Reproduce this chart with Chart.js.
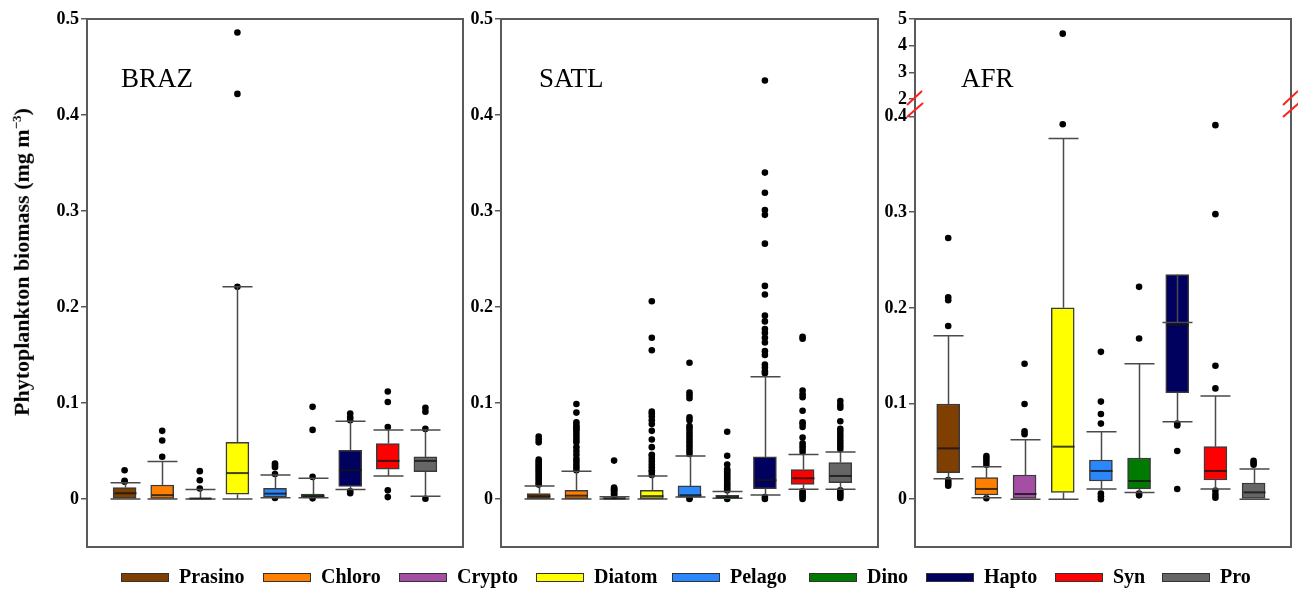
<!DOCTYPE html>
<html>
<head>
<meta charset="utf-8">
<script src="https://cdn.jsdelivr.net/npm/chart.js@4.4.1/dist/chart.umd.min.js"></script>
<style>
    html, body { margin: 0; padding: 0; background: #fff; }
    #wrap { position: relative; width: 1298px; height: 590px; overflow: hidden;
            font-family: "Liberation Serif", "Times New Roman", serif; color: #000; }
    #wrap canvas { position: absolute; top: 0; }
    #ytitle { position: absolute; left: 22px; top: 262px; white-space: nowrap;
              transform: translate(-50%, -50%) rotate(-90deg);
              font-weight: bold; font-size: 22px; }
    #ytitle sup { font-size: 13px; }
    .sw { position: absolute; top: 573px; width: 46px; height: 7px; border: 1px solid #333; }
    .lt { position: absolute; top: 565px; font-weight: bold; font-size: 20px; line-height: 22px; }
</style>
</head>
<body>
<div id="wrap">
    <canvas id="cBraz" width="468" height="590" style="left:0px"></canvas>
    <canvas id="cSatl" width="422" height="590" style="left:460px"></canvas>
    <canvas id="cAfr" width="422" height="590" style="left:876px"></canvas>
    <div id="ytitle">Phytoplankton biomass (mg m<sup>&minus;3</sup>)</div>
    <div id="legend"></div>
</div>
<script>
// ── Groups and colours ────────────────────────────────────
var categories = ['Prasino', 'Chloro', 'Crypto', 'Diatom', 'Pelago', 'Dino', 'Hapto', 'Syn', 'Pro'];
var colors     = ['#7f3f00', '#ff8000', '#a44ea4', '#ffff00', '#2a88fc', '#007a00', '#00005e', '#ff0000', '#666666'];

var yTicks      = [0, 0.1, 0.2, 0.3, 0.4, 0.5];
var afrLowTicks = [0, 0.1, 0.2, 0.3, 0.4];
var afrTopTicks = [2, 3, 4, 5];

// ── BRAZ ──────────────────────────────────────────────────
var brazLow  = [0,      0,      0,      0,     0.0014, 0.0014, 0.010,  0.024,  0.0028];
var brazQ1   = [0.0005, 0.0005, 0,      0.005, 0.002,  0.0014, 0.0132, 0.031,  0.0285];
var brazMed  = [0.006,  0.004,  0.0005, 0.027, 0.0056, 0.003,  0.030,  0.0397, 0.0397];
var brazQ3   = [0.012,  0.0146, 0.001,  0.059, 0.011,  0.005,  0.0508, 0.0578, 0.0438];
var brazHigh = [0.017,  0.039,  0.010,  0.221, 0.025,  0.0216, 0.081,  0.072,  0.072];
var brazOut  = [
    [0.018, 0.019, 0.030],
    [0.044, 0.061, 0.071],
    [0.011, 0.0195, 0.029],
    [0.221, 0.422, 0.486],
    [0.001, 0.026, 0.033, 0.035, 0.037],
    [0.0007, 0.023, 0.072, 0.096],
    [0.006, 0.008, 0.082, 0.085, 0.089],
    [0.002, 0.009, 0.075, 0.101, 0.112],
    [0.0003, 0.073, 0.091, 0.095]
];

// ── SATL ──────────────────────────────────────────────────
var satlLow  = [0,      0,      0,      0,      0.002,  0.0007, 0.0042, 0.0101, 0.0101];
var satlQ1   = [0.0003, 0.0003, 0,      0.0003, 0.002,  0.0007, 0.0108, 0.0153, 0.017];
var satlMed  = [0.0028, 0.0035, 0.0005, 0.003,  0.004,  0.002,  0.0195, 0.0216, 0.024];
var satlQ3   = [0.0056, 0.009,  0.0015, 0.009,  0.0136, 0.0038, 0.0438, 0.0306, 0.0379];
var satlHigh = [0.0136, 0.029,  0.0024, 0.024,  0.0449, 0.0077, 0.1274, 0.0463, 0.049];
var satlOut  = [
    [0.015, 0.017, 0.019, 0.021, 0.023, 0.025, 0.027, 0.029, 0.031, 0.033, 0.035, 0.037, 0.039, 0.041, 0.059, 0.062, 0.065],
    [0.030, 0.033, 0.036, 0.039, 0.042, 0.046, 0.050, 0.054, 0.059, 0.062, 0.065, 0.068, 0.071, 0.073, 0.075, 0.077, 0.080, 0.090, 0.099],
    [0.003, 0.005, 0.006, 0.008, 0.009, 0.010, 0.011, 0.012, 0.040],
    [0.025, 0.028, 0.030, 0.033, 0.036, 0.039, 0.042, 0.045, 0.046, 0.054, 0.062, 0.071, 0.078, 0.082, 0.086, 0.089, 0.091, 0.155, 0.168, 0.206],
    [0, 0.001, 0.047, 0.050, 0.053, 0.056, 0.059, 0.062, 0.065, 0.068, 0.071, 0.074, 0.076, 0.082, 0.085, 0.105, 0.108, 0.111, 0.142],
    [0, 0.009, 0.011, 0.013, 0.015, 0.017, 0.019, 0.021, 0.023, 0.025, 0.027, 0.029, 0.031, 0.036, 0.045, 0.070],
    [0, 0.002, 0.131, 0.133, 0.137, 0.140, 0.150, 0.154, 0.163, 0.168, 0.173, 0.177, 0.185, 0.191, 0.213, 0.222, 0.266, 0.296, 0.301, 0.319, 0.340, 0.436],
    [0, 0.002, 0.004, 0.006, 0.008, 0.049, 0.052, 0.055, 0.058, 0.064, 0.075, 0.078, 0.080, 0.092, 0.106, 0.109, 0.113, 0.167, 0.169],
    [0.001, 0.003, 0.005, 0.007, 0.009, 0.052, 0.055, 0.058, 0.061, 0.064, 0.067, 0.070, 0.073, 0.081, 0.095, 0.098, 0.102]
];

// ── AFR (broken axis: 0–0.4 below, 2–5 above) ─────────────
var afrLow  = [0.0214, 0.0016, 0,      0,      0.0107, 0.0071, 0.081,  0.0107, 0];
var afrQ1   = [0.0277, 0.0044, 0,      0.0071, 0.019,  0.0107, 0.1113, 0.020,  0];
var afrMed  = [0.0531, 0.0107, 0.0054, 0.0549, 0.0295, 0.019,  0.182,  0.0295, 0.0071];
var afrQ3   = [0.0995, 0.0225, 0.0253, 0.2001, 0.041,  0.043,  0.2349, 0.0549, 0.0169];
var afrHigh = [0.1708, 0.034,  0.0622, 0.377,  0.0705, 0.1416, 0.1848, 0.1078, 0.0316];
var afrOut  = [
    [0.014, 0.016, 0.018, 0.020, 0.181, 0.208, 0.211, 0.273],
    [0.001, 0.036, 0.039, 0.042, 0.045],
    [0.068, 0.071, 0.0995, 0.1416],
    [0.392],
    [0, 0.003, 0.006, 0.079, 0.089, 0.102, 0.154],
    [0.004, 0.006, 0.168, 0.222],
    [0.0107, 0.0504, 0.077, 0.079],
    [0.0016, 0.005, 0.009, 0.1158, 0.1395, 0.298, 0.391],
    [0.036, 0.038, 0.040]
];
var afrOutTop = [[], [], [], [4.45], [], [], [], [], []];

// ── Helpers ───────────────────────────────────────────────
var FRAME = '#5a5a5a';
var TICK_FONT = { family: '"Liberation Serif", "Times New Roman", serif', size: 18, weight: 'bold' };

function toPoints(lists) {
    var pts = [];
    lists.forEach(function (arr, i) {
        arr.forEach(function (v) { pts.push({ x: i + 1, y: v }); });
    });
    return pts;
}

function fmt(v) { return v === 0 ? '0' : String(+v.toFixed(2)); }

function yAxis(min, max, ticks, width, extra) {
    var ax = {
        type: 'linear', position: 'left', min: min, max: max,
        afterBuildTicks: function (a) { a.ticks = ticks.map(function (v) { return { value: v }; }); },
        afterFit: function (a) { a.width = width; },
        border: { display: false },
        grid: { drawOnChartArea: false, drawTicks: true, tickLength: 6, color: FRAME, lineWidth: 1.5 },
        ticks: { font: TICK_FONT, color: '#000', padding: 2, callback: fmt, autoSkip: false }
    };
    for (var k in extra) ax[k] = extra[k];
    return ax;
}

// whiskers, caps, medians, frame, panel name and axis break marks
function boxPlugin(name, s, broken) {
    return {
        id: 'box_' + name,
        afterDatasetsDraw: function (chart) {
            var ctx = chart.ctx, xs = chart.scales.x, ys = chart.scales.y, a = chart.chartArea;
            ctx.save();
            ctx.lineCap = 'butt';
            s.low.forEach(function (lo, i) {
                var px = Math.round(xs.getPixelForValue(i + 1)) + 0.5;
                var yLo = ys.getPixelForValue(lo), yHi = ys.getPixelForValue(s.high[i]);
                var yQ1 = ys.getPixelForValue(s.q1[i]), yQ3 = ys.getPixelForValue(s.q3[i]);
                ctx.strokeStyle = '#4a4a4a';
                ctx.lineWidth = 1.5;
                ctx.beginPath();
                ctx.moveTo(px, yQ3); ctx.lineTo(px, yHi);
                ctx.moveTo(px, yQ1); ctx.lineTo(px, yLo);
                ctx.moveTo(px - 15, yHi); ctx.lineTo(px + 15, yHi);
                ctx.moveTo(px - 15, yLo); ctx.lineTo(px + 15, yLo);
                ctx.stroke();
                var yM = ys.getPixelForValue(s.med[i]);
                ctx.strokeStyle = 'rgba(20,20,20,0.8)';
                ctx.lineWidth = 2;
                ctx.beginPath();
                ctx.moveTo(px - 11, yM); ctx.lineTo(px + 11, yM);
                ctx.stroke();
            });
            // frame
            ctx.strokeStyle = FRAME;
            ctx.lineWidth = 2;
            ctx.strokeRect(a.left, a.top, a.right - a.left, a.bottom - a.top);
            // panel name
            ctx.fillStyle = '#000';
            ctx.font = '27px "Liberation Serif", "Times New Roman", serif';
            ctx.textBaseline = 'alphabetic';
            ctx.fillText(name, a.left + (name === 'SATL' ? 38 : name === 'AFR' ? 46 : 34), 87);
            if (broken) {
                var b = chart.scales.yTop.bottom;
                ctx.strokeStyle = '#ff2020';
                ctx.lineWidth = 2;
                [a.left, a.right].forEach(function (ex) {
                    ctx.beginPath();
                    ctx.moveTo(ex - 8, b - 2);  ctx.lineTo(ex + 7, b - 16);
                    ctx.moveTo(ex - 8, b + 10); ctx.lineTo(ex + 8, b - 4);
                    ctx.stroke();
                });
            }
            ctx.restore();
        }
    };
}

function makePanel(id, name, s, opt) {
    var datasets = [{
        type: 'bar',
        data: categories.map(function (c, i) { return { x: i + 1, y: [s.q1[i], s.q3[i]] }; }),
        backgroundColor: colors,
        borderColor: '#3a3a3a',
        borderWidth: 1.5,
        borderSkipped: false,
        barThickness: 23,
        grouped: false,
        yAxisID: 'y'
    }, {
        type: 'scatter',
        data: toPoints(s.out),
        pointRadius: 3.3,
        pointBackgroundColor: '#000',
        pointBorderWidth: 0,
        yAxisID: 'y'
    }];
    if (s.outTop) {
        datasets.push({
            type: 'scatter', data: toPoints(s.outTop),
            pointRadius: 3.3, pointBackgroundColor: '#000', pointBorderWidth: 0,
            yAxisID: 'yTop'
        });
    }
    var scales = { x: { type: 'linear', min: opt.xMin, max: opt.xMax, offset: false, display: false } };
    if (s.outTop) {
        scales.yTop = yAxis(1.7, 5, afrTopTicks, opt.axisW, { stack: 'afr', stackWeight: 88, weight: 2 });
        scales.y    = yAxis(-0.05, 0.41, afrLowTicks, opt.axisW, { stack: 'afr', stackWeight: 440, weight: 1 });
    } else {
        scales.y = yAxis(-0.05, 0.5, yTicks, opt.axisW, {});
    }
    return new Chart(document.getElementById(id), {
        type: 'bar',
        data: { labels: categories, datasets: datasets },
        options: {
            responsive: false,
            animation: false,
            devicePixelRatio: 1,
            events: [],
            layout: { padding: { top: 19, bottom: 43, left: 0, right: opt.padR } },
            plugins: { legend: { display: false }, tooltip: { enabled: false } },
            scales: scales
        },
        plugins: [boxPlugin(name, s, !!s.outTop)]
    });
}

makePanel('cBraz', 'BRAZ',
    { low: brazLow, q1: brazQ1, med: brazMed, q3: brazQ3, high: brazHigh, out: brazOut },
    { axisW: 87, padR: 5, xMin: 0, xMax: 10 });
makePanel('cSatl', 'SATL',
    { low: satlLow, q1: satlQ1, med: satlMed, q3: satlQ3, high: satlHigh, out: satlOut },
    { axisW: 41, padR: 4, xMin: 0, xMax: 10 });
makePanel('cAfr', 'AFR',
    { low: afrLow, q1: afrQ1, med: afrMed, q3: afrQ3, high: afrHigh, out: afrOut, outTop: afrOutTop },
    { axisW: 39, padR: 7, xMin: 0.13, xMax: 9.98 });

// ── Legend ────────────────────────────────────────────────
var legendLeft = [121, 263, 399, 536, 672, 809, 926, 1055, 1162];
var legend = document.getElementById('legend');
categories.forEach(function (c, i) {
    var sw = document.createElement('div');
    sw.className = 'sw';
    sw.style.left = legendLeft[i] + 'px';
    sw.style.background = colors[i];
    legend.appendChild(sw);
    var t = document.createElement('div');
    t.className = 'lt';
    t.style.left = (legendLeft[i] + 58) + 'px';
    t.textContent = c;
    legend.appendChild(t);
});
</script>
</body>
</html>
